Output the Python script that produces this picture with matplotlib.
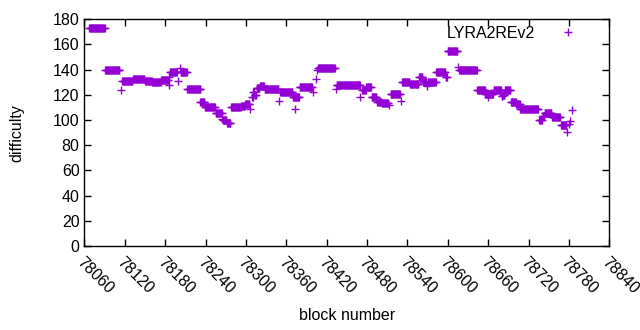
import numpy as np
import matplotlib
matplotlib.use("Agg")
import matplotlib.pyplot as plt

# runs of constant difficulty: first block, last block, value
run_start = [78067, 78091, 78114, 78116, 78132, 78150, 78161, 78174, 78185, 78186, 78187,
             78187, 78199, 78202, 78203, 78213, 78232, 78239, 78255, 78265, 78266, 78272,
             78278, 78293, 78299, 78306, 78309, 78311, 78313, 78316, 78321, 78328, 78349,
             78351, 78370, 78373, 78380, 78399, 78404, 78405, 78407, 78434, 78435, 78470,
             78473, 78479, 78487, 78495, 78502, 78513, 78515, 78531, 78532, 78544, 78557,
             78563, 78569, 78570, 78583, 78597, 78600, 78615, 78617, 78644, 78656, 78660,
             78668, 78680, 78682, 78685, 78694, 78702, 78708, 78736, 78741, 78744, 78755,
             78768, 78777, 78780, 78781, 78785]
run_end = [78090, 78112, 78114, 78131, 78149, 78160, 78173, 78184, 78185, 78186, 78186,
           78197, 78199, 78202, 78212, 78232, 78238, 78254, 78264, 78265, 78271, 78277,
           78292, 78298, 78305, 78306, 78310, 78312, 78315, 78320, 78327, 78348, 78349,
           78369, 78379, 78373, 78398, 78399, 78404, 78405, 78432, 78434, 78469, 78470,
           78478, 78486, 78494, 78501, 78511, 78513, 78529, 78531, 78543, 78556, 78562,
           78568, 78569, 78582, 78596, 78599, 78614, 78615, 78643, 78655, 78667, 78660,
           78679, 78681, 78684, 78693, 78701, 78707, 78734, 78740, 78743, 78754, 78767,
           78776, 78777, 78780, 78781, 78785]
run_value = [173, 140, 124, 131, 133, 131, 130, 132, 134, 128, 133,
             138, 131, 141, 138, 124.5, 114.5, 110, 106, 101, 100, 98,
             110, 111.3, 113, 108.6, 118, 122, 120, 125.7, 127, 125, 115,
             122, 118.5, 108.6, 126, 122, 132.4, 139.6, 141, 125, 128, 118,
             123.7, 126.5, 118.7, 114, 113.2, 111.8, 120.3, 115.2, 130.6, 128.7, 133.8,
             130, 127, 130, 137.8, 134, 155.2, 142.2, 140, 123.5, 120.5, 118.4,
             124, 119.5, 119.7, 124.2, 114.5, 112.4, 109, 100, 103.5, 106, 102.5,
             96, 90.6, 96.5, 99.5, 108]

xs, ys = [], []
for a, b, v in zip(run_start, run_end, run_value):
    blk = np.arange(a, b + 1)
    xs.append(blk)
    ys.append(np.full(len(blk), v))
blocks = np.concatenate(xs)
diff = np.concatenate(ys)

fs = 11.5
plt.rcParams['font.family'] = ['Liberation Sans', 'DejaVu Sans']
fig = plt.figure(figsize=(6.4, 3.3), dpi=100)
ax = fig.add_axes([0.132, 0.2545, 0.820, 0.687])

ax.plot(blocks, diff, linestyle='none', marker='+', color='#9400D3',
        markersize=5.5, markeredgewidth=1.0, label='LYRA2REv2')

ax.set_xlim(78060, 78840)
ax.set_ylim(0, 180)
ax.set_xticks(np.arange(78060, 78841, 60))
ax.set_yticks(np.arange(0, 181, 20))
ax.tick_params(direction='in', length=5, width=1, top=True, right=True, labelsize=fs)
for lab in ax.get_xticklabels():
    lab.set_rotation(-45)
    lab.set_ha('left')
    lab.set_va('top')
    lab.set_rotation_mode('anchor')
ax.tick_params(axis='x', pad=6)
for s in ax.spines.values():
    s.set_linewidth(1)

ax.set_xlabel('block number', fontsize=fs)
ax.set_ylabel('difficulty', fontsize=fs)
ax.xaxis.set_label_coords(0.5, -0.272)
ax.yaxis.set_label_coords(-0.115, 0.5)
ax.legend(loc='upper right', bbox_to_anchor=(0.9716, 1.0), borderaxespad=0,
          frameon=False, markerfirst=False, fontsize=fs,
          handlelength=2.5, handletextpad=0.79)

fig.savefig('out.png', dpi=100)
